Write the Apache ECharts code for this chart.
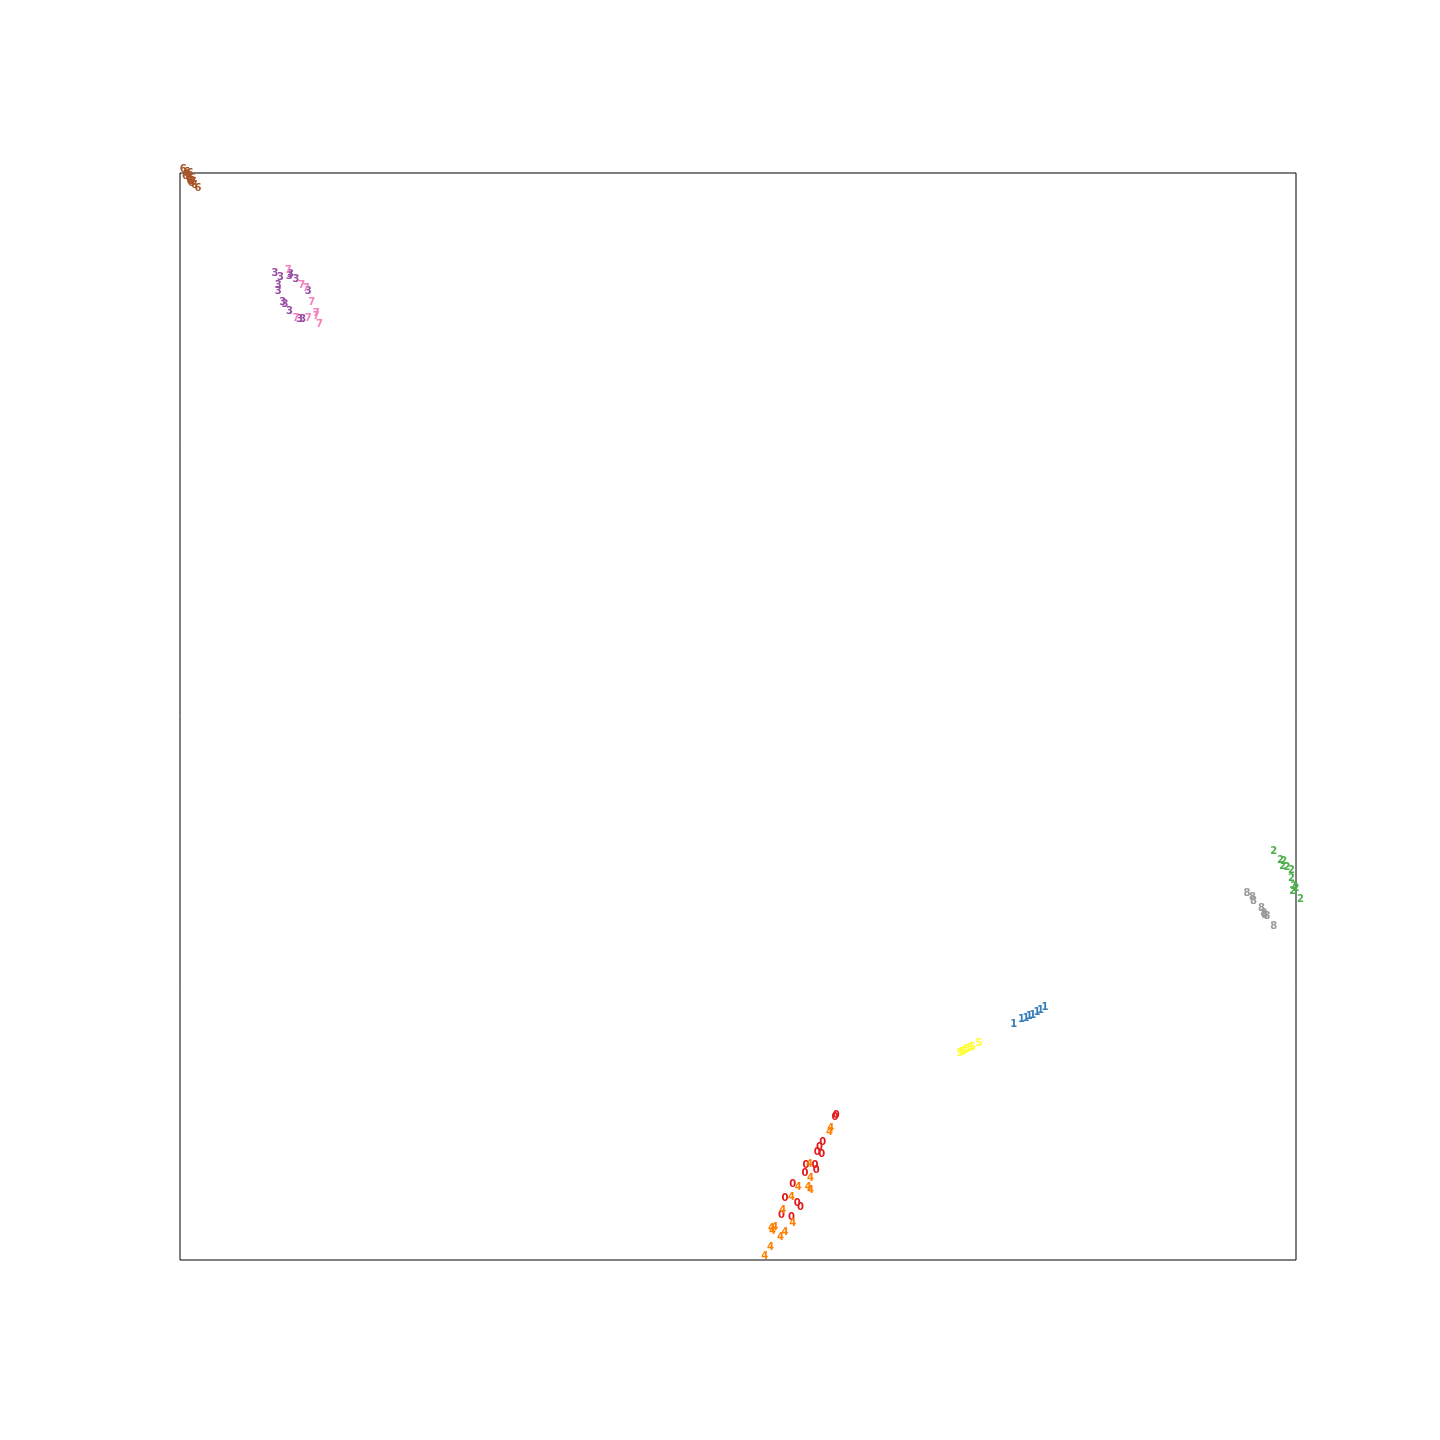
<!DOCTYPE html>
<html>
<head>
<meta charset="utf-8">
<script src="https://cdn.jsdelivr.net/npm/echarts@6/dist/echarts.min.js"></script>
<style>
  html, body { margin: 0; padding: 0; background: #fff; }
  #chart { width: 1440px; height: 1440px; }
</style>
</head>
<body>
<div id="chart"></div>
<script>
// embedding coordinates, scaled to 0..1, one array per digit
const digit0 = [[0.588,0.133],[0.587,0.131],[0.576,0.108],[0.573,0.104],[0.571,0.099],[0.575,0.097],[0.569,0.087],[0.561,0.087],[0.560,0.080],[0.570,0.082],[0.549,0.070],[0.542,0.057],[0.553,0.052],[0.556,0.048],[0.539,0.041],[0.548,0.039]];
const digit1 = [[0.747,0.217],[0.754,0.221],[0.758,0.222],[0.761,0.224],[0.764,0.225],[0.768,0.228],[0.771,0.230],[0.775,0.232]];
const digit2 = [[0.980,0.376],[0.986,0.368],[0.989,0.367],[0.988,0.362],[0.992,0.361],[0.996,0.358],[0.996,0.351],[0.998,0.344],[1.000,0.342],[0.997,0.339],[1.004,0.332]];
const digit3 = [[0.085,0.908],[0.090,0.904],[0.099,0.907],[0.098,0.905],[0.104,0.902],[0.088,0.897],[0.088,0.891],[0.092,0.881],[0.094,0.879],[0.098,0.873],[0.107,0.865],[0.110,0.865],[0.115,0.891]];
const digit4 = [[0.583,0.121],[0.582,0.117],[0.564,0.088],[0.565,0.075],[0.554,0.067],[0.563,0.067],[0.565,0.064],[0.548,0.058],[0.540,0.046],[0.549,0.034],[0.530,0.029],[0.533,0.030],[0.531,0.026],[0.538,0.021],[0.542,0.025],[0.529,0.012],[0.524,0.003]];
const digit5 = [[0.699,0.190],[0.701,0.191],[0.703,0.192],[0.705,0.194],[0.708,0.195],[0.710,0.196],[0.716,0.199]];
const digit6 = [[0.003,1.003],[0.006,1.001],[0.009,1.000],[0.005,0.997],[0.008,0.995],[0.011,0.995],[0.009,0.992],[0.012,0.991],[0.013,0.989],[0.016,0.986],[0.007,0.999],[0.010,0.990]];
const digit7 = [[0.097,0.910],[0.109,0.897],[0.113,0.894],[0.118,0.881],[0.122,0.871],[0.122,0.868],[0.125,0.861],[0.104,0.866],[0.115,0.866]];
const digit8 = [[0.956,0.337],[0.961,0.334],[0.962,0.330],[0.969,0.323],[0.971,0.319],[0.974,0.316],[0.980,0.307],[0.972,0.317]];

const digits = ['0','1','2','3','4','5','6','7','8'];
const points = [digit0, digit1, digit2, digit3, digit4, digit5, digit6, digit7, digit8];
// Set1 colours
const colors = ['#e41a1c','#377eb8','#4daf4a','#984ea3','#ff7f00','#ffff33','#a65628','#f781bf','#999999'];

const chart = echarts.init(document.getElementById('chart'));

const series = digits.map((d, i) => ({
  type: 'scatter',
  name: d,
  data: points[i],
  symbolSize: 1,
  clip: false,
  itemStyle: { color: 'rgba(0,0,0,0)', opacity: 1 },
  label: {
    show: true,
    position: 'inside',
    offset: [0, 1],
    formatter: d,
    color: colors[i],
    opacity: 1,
    fontFamily: 'DejaVu Sans',
    fontWeight: 'bold',
    fontSize: 10
  },
  labelLayout: { hideOverlap: false }
}));

chart.setOption({
  backgroundColor: '#fff',
  animation: false,
  grid: {
    left: 180, top: 173, width: 1116, height: 1087,
    show: true, borderColor: '#000', borderWidth: 1, backgroundColor: 'transparent'
  },
  xAxis: { type: 'value', min: 0, max: 1, show: false },
  yAxis: { type: 'value', min: 0, max: 1, show: false },
  series: series
});
</script>
</body>
</html>
